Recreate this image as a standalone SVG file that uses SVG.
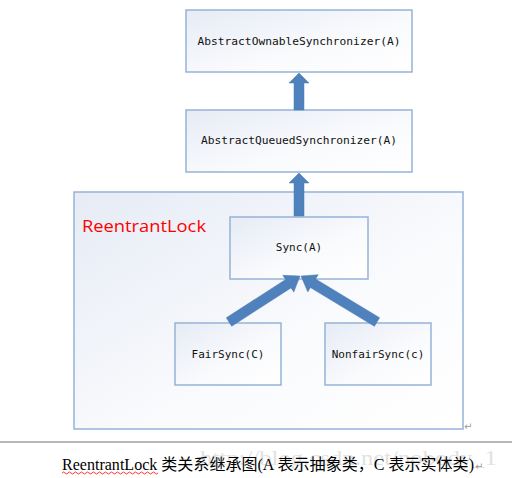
<svg xmlns="http://www.w3.org/2000/svg" width="512" height="478" viewBox="0 0 512 478">
<defs>
<linearGradient id="g" x1="0" y1="0" x2="1" y2="1">
<stop offset="0" stop-color="#e6ebf5"/>
<stop offset="0.6" stop-color="#fafbfd"/>
<stop offset="1" stop-color="#ffffff"/>
</linearGradient>
</defs>
<style>
.box{fill:url(#g);stroke:#95b3d7;stroke-width:1.5}
.lbl{font-family:"DejaVu Sans Mono","Liberation Mono",monospace;font-size:11px;fill:#111;text-anchor:middle}
.arr{fill:#4f81bd;stroke:#4a7ab3;stroke-width:0.5}
.ret{font-family:"DejaVu Sans",sans-serif;font-size:10px;fill:#999}
</style>
<rect width="512" height="478" fill="#fff"/>
<g id="reentrantlock">
<rect class="box" x="74" y="192" width="389" height="237"/>
<text x="82" y="232" font-family="'Open Sans','Liberation Sans',sans-serif" font-size="17" fill="#ff0000" textLength="124" lengthAdjust="spacingAndGlyphs">ReentrantLock</text>
</g>
<g id="aos">
<rect class="box" x="186" y="10" width="226" height="62"/>
<text class="lbl" x="299" y="45" textLength="203" lengthAdjust="spacingAndGlyphs">AbstractOwnableSynchronizer(A)</text>
</g>
<g id="aqs">
<rect class="box" x="186" y="110" width="226" height="62"/>
<text class="lbl" x="299" y="144" textLength="196" lengthAdjust="spacingAndGlyphs">AbstractQueuedSynchronizer(A)</text>
</g>
<g id="sync">
<rect class="box" x="230" y="217" width="138" height="62"/>
<text class="lbl" x="299" y="251">Sync(A)</text>
</g>
<g id="fairsync">
<rect class="box" x="175" y="323" width="106" height="62"/>
<text class="lbl" x="228" y="358">FairSync(C)</text>
</g>
<g id="nonfairsync">
<rect class="box" x="325" y="323" width="106" height="62"/>
<text class="lbl" x="378" y="358">NonfairSync(c)</text>
</g>
<g id="connectors">
<polygon class="arr" points="294,110 294,83 289,83 299,73 309,83 304,83 304,110"/>
<polygon class="arr" points="294,216 294,183 289,183 299,173 309,183 304,183 304,216"/>
<polygon class="arr" points="226.3,317.8 285.6,279.5 282.8,275.3 300,276 293.8,292.1 291,287.9 231.7,326.2"/>
<polygon class="arr" points="379.6,317.7 315.6,279 318.2,274.7 301,276 307.8,291.9 310.4,287.6 374.4,326.3"/>
</g>
<text class="ret" x="464" y="430">↵</text>
<line x1="0" y1="442" x2="512" y2="442" stroke="#a0a0a0" stroke-width="1.5"/>
<text x="200" y="465" font-family="'Liberation Serif',serif" font-size="22" fill="#e2e2e2" textLength="297" lengthAdjust="spacingAndGlyphs">http://blog.csdn.net/nobody_1</text>
<text x="62" y="470" font-family="'Liberation Serif','Noto Sans CJK SC',serif" font-size="16" fill="#000" textLength="412" lengthAdjust="spacingAndGlyphs">ReentrantLock 类关系继承图(A 表示抽象类，C 表示实体类)</text>
<path d="M62,473 q1.5,-2 3,0 t3,0 t3,0 t3,0 t3,0 t3,0 t3,0 t3,0 t3,0 t3,0 t3,0 t3,0 t3,0 t3,0 t3,0 t3,0 t3,0 t3,0 t3,0 t3,0 t3,0 t3,0 t3,0 t3,0 t3,0 t3,0 t3,0 t3,0 t3,0 t3,0 t3,0 t3,0" fill="none" stroke="#ff0000" stroke-width="0.8"/>
<text class="ret" x="475" y="470">↵</text>
</svg>
